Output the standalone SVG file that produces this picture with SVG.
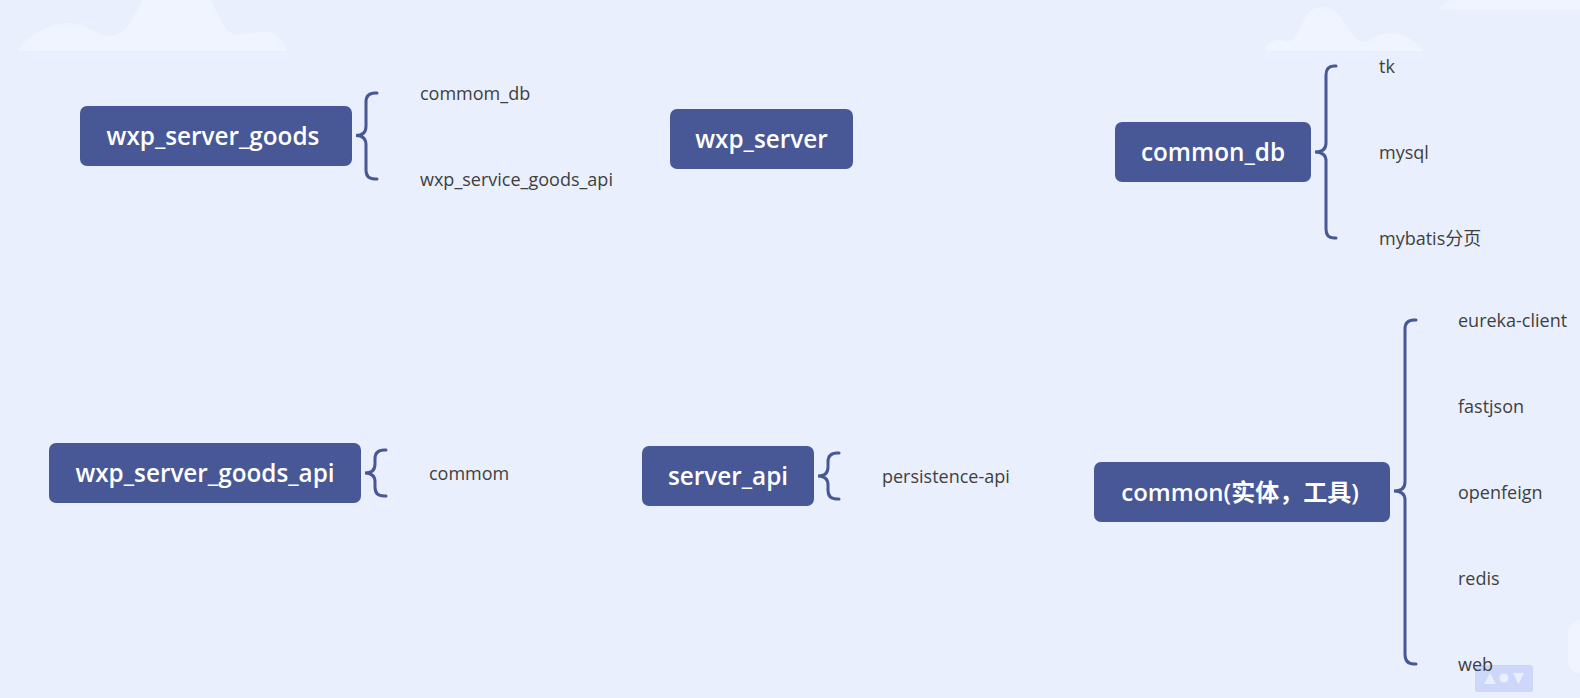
<svg xmlns="http://www.w3.org/2000/svg" width="1580" height="698" viewBox="0 0 1580 698">
<style>
.box{fill:#485795}
.t{font-family:"Open Sans","Noto Sans CJK SC",sans-serif;font-size:24.300px;font-weight:600;fill:#fff;text-anchor:middle}
.i{font-family:"Open Sans","Noto Sans CJK SC",sans-serif;font-size:18px;fill:#3f3f3f}
.b{fill:none;stroke:#485795;stroke-width:3;stroke-linecap:round}
.c{fill:#f0f4fe}
</style>
<rect width="1580" height="698" fill="#e9effd"/>
<g id="decor">
<path class="c" d="M18 51C24 38 48 23 68 23C84 23 92 30 100 35C110 38 120 35 128 26L143 0H211C218 14 224 30 234 35C245 36 258 29 272 33C280 36 285 44 287 51Z"/>
<path class="c" d="M1265 51C1267 42 1276 38 1285 41C1295 44 1299 30 1305 18C1312 3 1332 3 1342 20C1352 36 1358 42 1366 42C1376 34 1395 30 1410 39C1417 44 1421 48 1424 51Z"/>
<path class="c" d="M1439 10C1442 3 1450 0 1455 0H1580V10Z"/>
<path class="c" d="M1580 620C1570 622 1568 630 1568 640V660C1568 668 1572 672 1580 673Z"/>
<rect x="1475" y="665" width="58" height="27" rx="3" fill="#cdd7f9"/>
<path d="M1484 684L1490 673L1496 684Z" fill="#e9effd"/>
<circle cx="1504" cy="678" r="4.500" fill="#e9effd"/>
<path d="M1513 673H1524L1518.500 684Z" fill="#e9effd"/>
</g>
<g id="connectors">
<path class="b" d="M377 93H375Q366 93 366 102V126Q366 135.500 356 135.500Q366 135.500 366 145V170Q366 179 375 179H377"/>
<path class="b" d="M1336 66H1334Q1326 66 1326 75V143Q1326 152 1315 152Q1326 152 1326 161V229Q1326 238 1334 238H1336"/>
<path class="b" d="M386 450H384Q375 450 375 459V464Q375 473 365 473Q375 473 375 482V487Q375 496 384 496H386"/>
<path class="b" d="M839 453H837Q828 453 828 462V467Q828 476 818 476Q828 476 828 485V490Q828 499 837 499H839"/>
<path class="b" d="M1416 320H1414Q1405 320 1405 329V482Q1405 491 1394 491Q1405 491 1405 500V654Q1405 664 1414 664H1416"/>
</g>
<g id="n1"><rect class="box" x="80" y="106" width="272" height="60" rx="7"/><text class="t" x="213" y="145">wxp_server_goods</text></g>
<g id="n2"><rect class="box" x="670" y="109" width="183" height="60" rx="7"/><text class="t" x="761.500" y="148">wxp_server</text></g>
<g id="n3"><rect class="box" x="1115" y="122" width="196" height="60" rx="7"/><text class="t" x="1213" y="161">common_db</text></g>
<g id="n4"><rect class="box" x="49" y="443" width="312" height="60" rx="7"/><text class="t" x="205" y="482">wxp_server_goods_api</text></g>
<g id="n5"><rect class="box" x="642" y="446" width="172" height="60" rx="7"/><text class="t" x="728" y="485">server_api</text></g>
<g id="n6"><rect class="box" x="1094" y="462" width="296" height="60" rx="7"/><text class="t" x="1240" y="501" style="font-size:24px">common(实体，工具)</text></g>
<g id="items">
<text class="i" x="420" y="100">commom_db</text>
<text class="i" x="420" y="186">wxp_service_goods_api</text>
<text class="i" x="1379" y="73">tk</text>
<text class="i" x="1379" y="159">mysql</text>
<text class="i" x="1379" y="245">mybatis分页</text>
<text class="i" x="429" y="480">commom</text>
<text class="i" x="882" y="483">persistence-api</text>
<text class="i" x="1458" y="327">eureka-client</text>
<text class="i" x="1458" y="413">fastjson</text>
<text class="i" x="1458" y="499">openfeign</text>
<text class="i" x="1458" y="585">redis</text>
<text class="i" x="1458" y="671">web</text>
</g>
</svg>
